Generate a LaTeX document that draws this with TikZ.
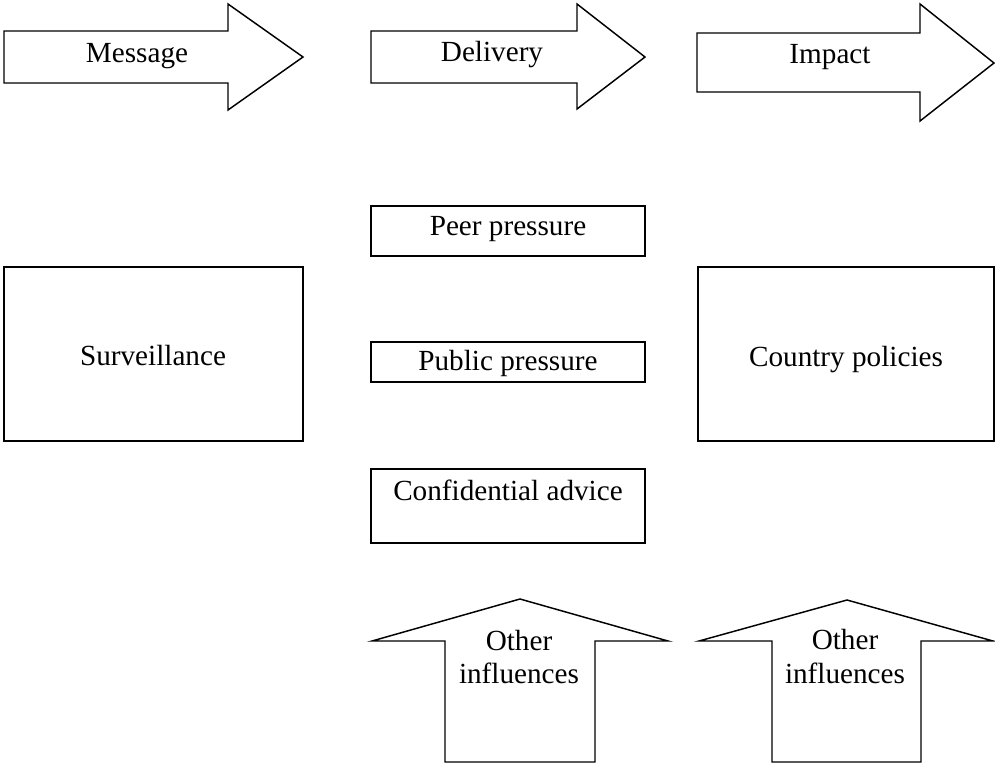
\documentclass[tikz,border=0pt]{standalone}
\usepackage{fontspec}
\setmainfont{Liberation Serif}
\begin{document}
\begin{tikzpicture}[x=0.75pt,y=-0.75pt,line width=1.1pt,line join=miter,font=\fontsize{21.9}{26}\selectfont,
	outline/.style={draw=black,fill=white},
	lbl/.style={anchor=base,inner sep=0pt}]
	\useasboundingbox (0,0) rectangle (995,764);
	% arrows along the top
	\draw[outline] (4,31) -- (228,31) -- (228,4) -- (303,57) -- (228,110) -- (228,83) -- (4,83) -- cycle;
	\draw[outline] (371,31) -- (577,31) -- (577,4) -- (645,57) -- (577,109) -- (577,83) -- (371,83) -- cycle;
	\draw[outline] (697,33) -- (920,33) -- (920,4) -- (994,63) -- (920,121) -- (920,92) -- (697,92) -- cycle;
	\node[lbl] (message) at (137,62) {Message};
	\node[lbl] (delivery) at (492,61) {Delivery};
	\node[lbl] (impact) at (830,63) {Impact};
	% boxes
	\draw[outline] (371,206) rectangle (645,256);
	\draw[outline] (4,267) rectangle (303,441);
	\draw[outline] (371,342) rectangle (645,382);
	\draw[outline] (698,267) rectangle (994,441);
	\draw[outline] (371,469) rectangle (645,543);
	\node[lbl] (peer) at (508,235) {Peer pressure};
	\node[lbl] (surv) at (153,365) {Surveillance};
	\node[lbl] (public) at (508,370) {Public pressure};
	\node[lbl] (policies) at (846,366) {Country policies};
	\node[lbl] (advice) at (508,500) {Confidential advice};
	% arrows from below
	\draw[outline] (445,762) -- (445,641) -- (372,641) -- (520,599) -- (668,641) -- (595,641) -- (595,762) -- cycle;
	\draw[outline] (772,762) -- (772,641) -- (699,641) -- (847,600) -- (993,641) -- (921,641) -- (921,762) -- cycle;
	\node[lbl] (other1) at (519,650) {Other};
	\node[lbl] (infl1) at (519,683) {influences};
	\node[lbl] (other2) at (845,649) {Other};
	\node[lbl] (infl2) at (845,683) {influences};
\end{tikzpicture}
\end{document}
